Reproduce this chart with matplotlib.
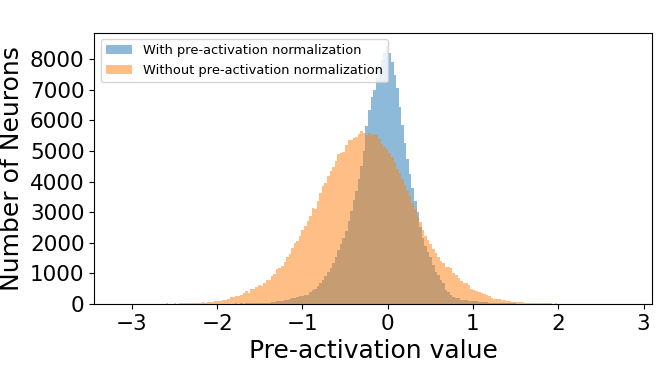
"""Histogram of pre-activation values with and without pre-activation normalization."""

import matplotlib
matplotlib.use("Agg")
import matplotlib.pyplot as plt
from matplotlib.ticker import MultipleLocator
import numpy as np

# bins are 0.03 wide; counts
bin_width = 0.03
without_norm_start = -2.631
with_norm_start = -1.881

with_norm_counts = [
    12, 15, 10, 18, 14, 20, 16,
    35, 35, 38, 36, 35, 40, 37, 42, 45, 50,
    60, 80, 87, 95, 110, 125, 140, 165, 185, 200,
    220, 250, 265, 290, 310, 380, 450, 500, 600, 690,
    790, 900, 1060, 1180, 1330, 1530, 1760, 1960, 2150, 2400,
    2700, 3050, 3400, 3700, 4100, 4500, 5000, 5800, 6350, 6750,
    7000, 7370, 7750, 7970, 8190, 8440, 8190, 7900, 7480, 7045,
    6450, 5850, 5250, 4750, 4250, 3800, 3350, 3000, 2500, 2150,
    1900, 1710, 1545, 1275, 1055, 947, 785, 675, 457, 400,
    294, 240, 207, 200, 130, 130, 125, 98, 98, 95,
    90, 70, 55, 55, 52, 50, 48, 45, 40, 38,
    42, 40, 30, 25, 20, 18, 15, 12, 10,
]

without_norm_counts = [
    0, 30, 0, 0, 30, 0, 35, 35, 33, 36,
    38, 35, 37, 40, 36, 75, 35, 65, 65, 68,
    100, 100, 105, 140, 145, 175, 220, 220, 270, 270,
    300, 350, 415, 360, 480, 500, 560, 610, 600, 690,
    775, 790, 925, 980, 1135, 1165, 1250, 1385, 1545, 1635,
    1840, 1980, 2060, 2230, 2420, 2550, 2720, 2875, 3150, 3095,
    3375, 3640, 3855, 3965, 4190, 4345, 4485, 4685, 4890, 4945,
    4975, 5195, 5360, 5370, 5410, 5470, 5540, 5650, 5600, 5520,
    5600, 5520, 5560, 5530, 5380, 5240, 5140, 5050, 4930, 4810,
    4650, 4420, 4290, 4100, 3880, 3700, 3520, 3290, 3100, 2850,
    2690, 2418, 2220, 2090, 1950, 1785, 1677, 1546, 1405, 1330,
    1220, 1220, 1165, 1000, 947, 840, 750, 675, 675, 620,
    480, 457, 440, 400, 360, 320, 280, 250, 210, 180,
    165, 160, 130, 125, 100, 95, 65, 68, 62, 65,
    60, 40, 35, 33, 35, 30, 33, 32, 30, 33,
    30, 32, 0, 33,
]

labels = ["With pre-activation normalization", "Without pre-activation normalization"]


def bin_edges(start, counts):
    return start + bin_width * np.arange(len(counts) + 1)


fig = plt.figure(figsize=(6.58, 3.65), dpi=100)
ax = fig.add_axes([0.1433, 0.167, 0.8477, 0.7434])

for start, counts, label in [
    (with_norm_start, with_norm_counts, labels[0]),
    (without_norm_start, without_norm_counts, labels[1]),
]:
    edges = bin_edges(start, counts)
    ax.hist(edges[:-1], bins=edges, weights=counts, alpha=0.5, label=label)

ax.set_xlim(-3.44, 3.10)
ax.yaxis.set_major_locator(MultipleLocator(1000))
ax.set_xlabel("Pre-activation value", fontsize=18)
ax.set_ylabel("Number of Neurons", fontsize=18)
ax.tick_params(axis="both", labelsize=15.5)
ax.legend(loc="upper left", fontsize=9.4)

fig.savefig("out.png", dpi=100)
